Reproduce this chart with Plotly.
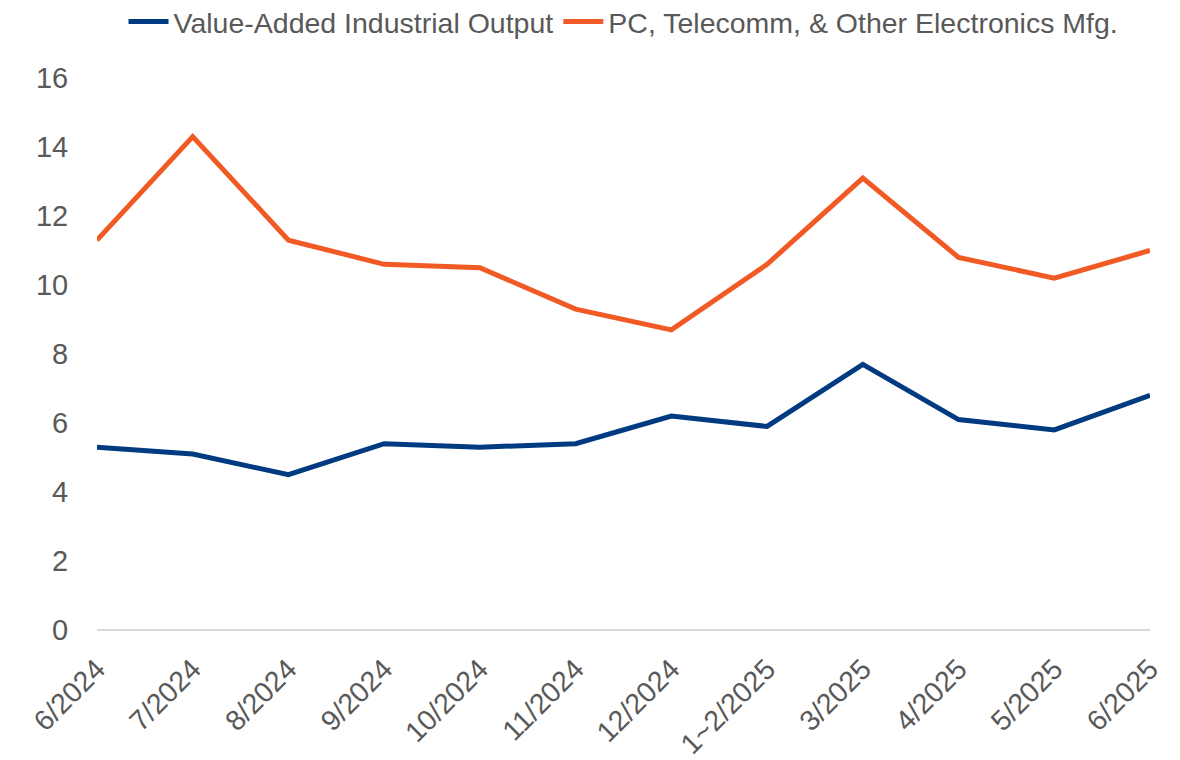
import plotly.graph_objects as go

months = ["6/2024", "7/2024", "8/2024", "9/2024", "10/2024", "11/2024",
          "12/2024", "1~2/2025", "3/2025", "4/2025", "5/2025", "6/2025"]
industrial_output = [5.3, 5.1, 4.5, 5.4, 5.3, 5.4, 6.2, 5.9, 7.7, 6.1, 5.8, 6.8]
electronics_mfg = [11.3, 14.3, 11.3, 10.6, 10.5, 9.3, 8.7, 10.6, 13.1, 10.8, 10.2, 11.0]
y_ticks = [0, 2, 4, 6, 8, 10, 12, 14, 16]

font_family = "Liberation Sans, Arial, sans-serif"
text_color = "#595959"

fig = go.Figure()
fig.add_trace(go.Scatter(
    x=months, y=industrial_output, mode="lines",
    name="Value-Added Industrial Output",
    line=dict(color="#003A80", width=5),
))
fig.add_trace(go.Scatter(
    x=months, y=electronics_mfg, mode="lines",
    name="PC, Telecomm, & Other Electronics Mfg.",
    line=dict(color="#F15A24", width=5),
))

fig.update_layout(
    width=1180, height=760,
    margin=dict(l=97, r=30, t=78, b=130),
    paper_bgcolor="white", plot_bgcolor="white",
    font=dict(family=font_family, color=text_color),
    showlegend=True,
    legend=dict(
        orientation="h", x=0.5, xanchor="center",
        y=1 - 22 / 760, yanchor="middle", yref="container",
        font=dict(size=28.5, color=text_color),
        itemwidth=40, tracegroupgap=0,
    ),
)

fig.update_xaxes(
    type="category", range=[0, len(months) - 1], automargin=False,
    tickangle=-45, tickfont=dict(size=28.5, color=text_color),
    showgrid=False, showline=False, zeroline=False,
    ticks="outside", ticklen=10, tickcolor="rgba(0,0,0,0)",
)
fig.update_yaxes(
    range=[0, 16], tickvals=y_ticks, automargin=False,
    tickfont=dict(size=29, color=text_color),
    showgrid=False, showline=False,
    zeroline=True, zerolinecolor="#D9D9D9", zerolinewidth=2,
    ticks="outside", ticklen=22, tickcolor="rgba(0,0,0,0)",
)

fig.write_html("out.html")
